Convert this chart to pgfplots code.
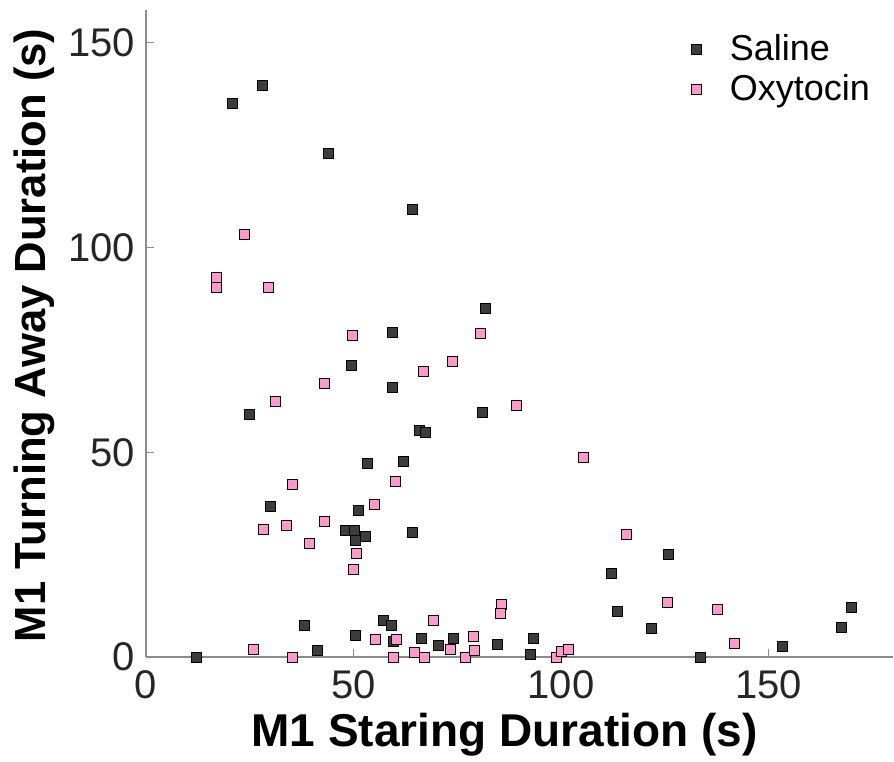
\documentclass[border=0pt]{standalone}
\usepackage{pgfplots}
\pgfplotsset{compat=1.18}
\usepackage{fontspec}
\setmainfont{Liberation Sans}
\definecolor{saline}{HTML}{3C3C3C}
\definecolor{oxy}{HTML}{FF99CC}
\definecolor{axgray}{HTML}{8C8C8C}
\definecolor{ticktext}{HTML}{262626}
\begin{document}
\begin{tikzpicture}
\begin{axis}[
  scale only axis,
  width=373.5pt, height=323.5pt,
  xmin=0, xmax=180, ymin=0, ymax=158,
  axis lines=left,
  axis line style={-, draw=axgray, line width=0.8pt},
  xtick={0,50,100,150}, ytick={0,50,100,150},
  tick style={draw=axgray, line width=0.6pt},
  major tick length=4pt,
  tick align=inside,
  /pgf/number format/assume math mode=true,
  ticklabel style={font=\fontsize{20}{24}\selectfont, text=ticktext},
  xticklabel style={yshift=-3.5pt},
  yticklabel style={xshift=-2pt},
  xlabel={\bfseries M1 Staring Duration (s)},
  ylabel={\bfseries M1 Turning Away Duration (s)},
  xlabel style={font=\fontsize{23}{27}\selectfont\bfseries, text=black,
    at={(axis description cs:0.48,0)}, anchor=center, yshift=-39pt},
  ylabel style={font=\fontsize{21.8}{26}\selectfont\bfseries, text=black,
    at={(axis description cs:0,0.497)}, anchor=center, yshift=56pt},
  legend style={draw=none, fill=none, at={(0.983,0.975)}, anchor=north east,
    font=\fontsize{18}{21}\selectfont, row sep=1.5pt,
    /tikz/every odd column/.append style={column sep=12pt}},
  legend cell align=left,
]
\addplot[only marks, mark=square*, mark size=2.5pt,
  mark options={fill=saline, draw=black, line width=0.5pt}] coordinates {
(28.0,139.5) (20.9,135.2) (44.0,122.9) (64.1,109.2) (59.3,79.2)
(49.4,71.3) (59.3,65.8) (25.0,59.1) (81.9,85.0) (81.0,59.7)
(66.0,55.4) (67.4,54.8) (53.3,47.2) (62.0,47.8) (29.9,36.7)
(51.1,35.8) (48.1,30.8) (50.3,30.8) (50.6,28.5) (53.0,29.5)
(64.1,30.5) (38.3,7.6) (50.6,5.3) (57.2,8.9) (59.1,7.6)
(59.6,3.8) (12.1,0) (41.3,1.6) (112.2,20.4) (113.7,11.0)
(66.5,4.4) (70.4,2.8) (74.0,4.4) (84.8,3.1) (93.3,4.4)
(92.7,0.6) (126.0,25.0) (121.8,7.0) (133.6,0) (153.4,2.5)
(167.5,7.3) (169.9,12.2)
};
\addlegendentry{Saline}
\addplot[only marks, mark=square*, mark size=2.5pt,
  mark options={fill=oxy, draw=black, line width=0.5pt}] coordinates {
(23.8,103.2) (16.9,92.7) (16.9,90.3) (29.5,90.2) (49.7,78.5)
(43.1,66.7) (31.3,62.5) (35.2,42.1) (60.1,42.9) (55.1,37.2)
(80.6,78.9) (73.8,72.2) (66.8,69.7) (89.3,61.5) (105.5,48.7)
(28.3,31.1) (33.8,32.0) (43.0,33.2) (39.5,27.8) (50.8,25.3)
(50.0,21.3) (25.9,1.8) (35.2,0) (55.4,4.3) (59.6,0)
(60.4,4.3) (115.7,29.9) (85.6,12.8) (85.4,10.7) (69.2,8.9)
(64.8,1.2) (67.1,0) (73.4,1.8) (77.0,0) (78.8,4.9)
(79.1,1.6) (98.9,0) (100.2,1.3) (101.7,1.8) (125.7,13.4)
(137.7,11.6) (141.7,3.4)
};
\addlegendentry{Oxytocin}
\end{axis}
\pgfresetboundingbox
\path[use as bounding box] ([xshift=-73pt,yshift=-52pt]current axis.south west) rectangle ([xshift=0.5pt,yshift=5pt]current axis.north east);
\end{tikzpicture}
\end{document}
